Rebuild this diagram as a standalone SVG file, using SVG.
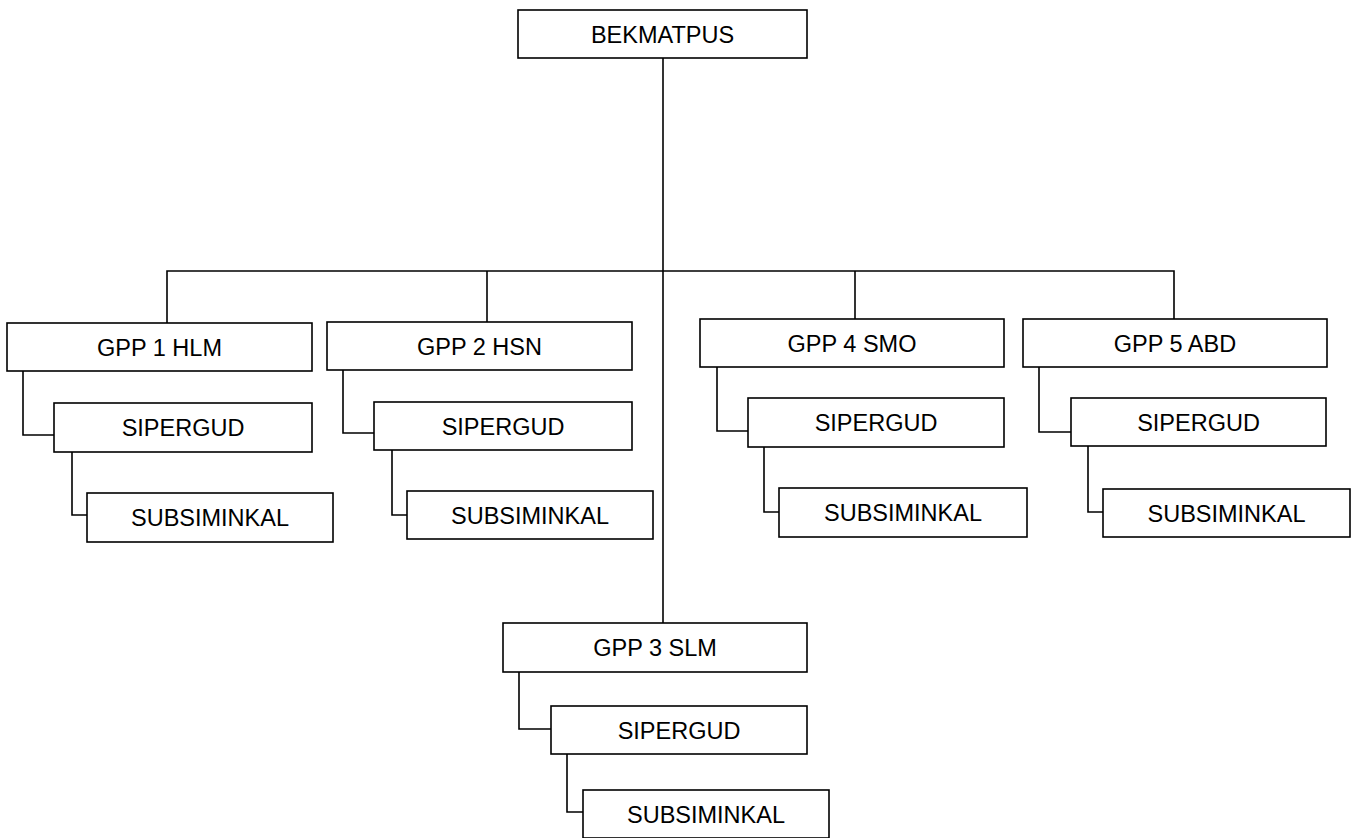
<svg xmlns="http://www.w3.org/2000/svg" width="1361" height="838" viewBox="0 0 1361 838">
<style>
.box{fill:#fff;stroke:#000;stroke-width:1.6}
.lbl{font-family:"Liberation Sans",Arial,sans-serif;font-size:23.5px;fill:#000;text-anchor:middle}
.con{fill:none;stroke:#000;stroke-width:1.6}
</style>
<rect width="1361" height="838" fill="#fff"/>
<g id="connectors">
<path class="con" d="M663,58 V623"/>
<path class="con" d="M167,323 V271 H1174 V319"/>
<path class="con" d="M487,271 V322"/>
<path class="con" d="M855,271 V319"/>
<path class="con" d="M23,371 V435 H54"/>
<path class="con" d="M72,452 V515 H87"/>
<path class="con" d="M343,370 V433 H374"/>
<path class="con" d="M392,450 V515 H407"/>
<path class="con" d="M717,367 V431 H748"/>
<path class="con" d="M764,447 V512 H779"/>
<path class="con" d="M1039,367 V432 H1071"/>
<path class="con" d="M1088,446 V512 H1103"/>
<path class="con" d="M519,672 V729 H551"/>
<path class="con" d="M567,754 V812 H583"/>
</g>
<g id="bekmatpus"><rect class="box" x="518" y="10" width="289" height="48"/><text class="lbl" x="662.5" y="42.5">BEKMATPUS</text></g>
<g id="gpp1"><rect class="box" x="7" y="323" width="305" height="48"/><text class="lbl" x="159.5" y="355.5">GPP 1 HLM</text></g>
<g id="sipergud1"><rect class="box" x="54" y="403" width="258" height="49"/><text class="lbl" x="183" y="436">SIPERGUD</text></g>
<g id="subsiminkal1"><rect class="box" x="87" y="493" width="246" height="49"/><text class="lbl" x="210" y="526">SUBSIMINKAL</text></g>
<g id="gpp2"><rect class="box" x="327" y="322" width="305" height="48"/><text class="lbl" x="479.5" y="354.5">GPP 2 HSN</text></g>
<g id="sipergud2"><rect class="box" x="374" y="402" width="258" height="48"/><text class="lbl" x="503" y="434.5">SIPERGUD</text></g>
<g id="subsiminkal2"><rect class="box" x="407" y="491" width="246" height="48"/><text class="lbl" x="530" y="523.5">SUBSIMINKAL</text></g>
<g id="gpp3"><rect class="box" x="503" y="623" width="304" height="49"/><text class="lbl" x="655" y="656">GPP 3 SLM</text></g>
<g id="sipergud3"><rect class="box" x="551" y="706" width="256" height="48"/><text class="lbl" x="679" y="738.5">SIPERGUD</text></g>
<g id="subsiminkal3"><rect class="box" x="583" y="790" width="246" height="48"/><text class="lbl" x="706" y="822.5">SUBSIMINKAL</text></g>
<g id="gpp4"><rect class="box" x="700" y="319" width="304" height="48"/><text class="lbl" x="852" y="351.5">GPP 4 SMO</text></g>
<g id="sipergud4"><rect class="box" x="748" y="398" width="256" height="49"/><text class="lbl" x="876" y="431">SIPERGUD</text></g>
<g id="subsiminkal4"><rect class="box" x="779" y="488" width="248" height="49"/><text class="lbl" x="903" y="521">SUBSIMINKAL</text></g>
<g id="gpp5"><rect class="box" x="1023" y="319" width="304" height="48"/><text class="lbl" x="1175" y="351.5">GPP 5 ABD</text></g>
<g id="sipergud5"><rect class="box" x="1071" y="398" width="255" height="48"/><text class="lbl" x="1198.5" y="430.5">SIPERGUD</text></g>
<g id="subsiminkal5"><rect class="box" x="1103" y="489" width="247" height="48"/><text class="lbl" x="1226.5" y="521.5">SUBSIMINKAL</text></g>
</svg>
